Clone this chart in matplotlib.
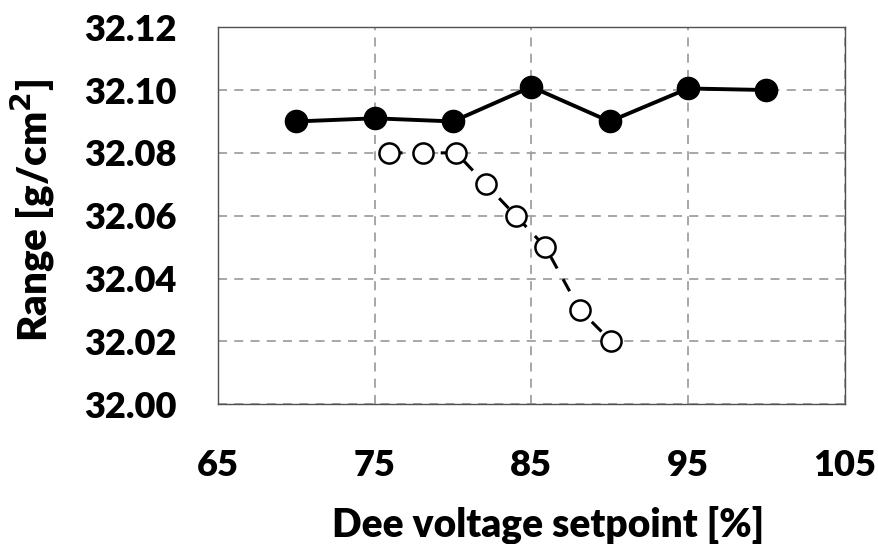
import matplotlib.pyplot as plt

# dados
x_cheio = [70, 75, 80, 85, 90, 95, 100]
y_cheio = [32.090, 32.091, 32.090, 32.101, 32.090, 32.1005, 32.100]

x_aberto = [75.9, 78.1, 80.2, 82.1, 84.0, 85.9, 88.1, 90.1]
y_aberto = [32.080, 32.080, 32.080, 32.070, 32.060, 32.050, 32.030, 32.020]

x_ticks = [65, 75, 85, 95, 105]
y_ticks = [32.00, 32.02, 32.04, 32.06, 32.08, 32.10, 32.12]

plt.rcParams['font.family'] = ['Lato', 'DejaVu Sans']
plt.rcParams['font.weight'] = 'heavy'

fig = plt.figure(figsize=(8.79, 5.44), dpi=100)
ax = fig.add_axes([0.248, 0.257, 0.713, 0.693])

ax.plot(x_cheio, y_cheio, color='black', lw=2.8, marker='o', ms=16,
        markerfacecolor='black', zorder=3)
ax.plot(x_aberto, y_aberto, color='black', lw=2.2, ls=(0, (4.5, 4)), marker='o',
        ms=14.5, markerfacecolor='white', markeredgecolor='black', mew=1.8, zorder=3)

ax.set_xlim(65, 105)
ax.set_ylim(32.00, 32.12)
ax.set_xticks(x_ticks)
ax.set_yticks(y_ticks)
ax.set_yticklabels(['%.2f' % v for v in y_ticks])
ax.grid(True, color='#a0a0a0', ls=(0, (5, 4)), lw=1.3)
ax.tick_params(length=0, labelsize=26)
ax.tick_params(axis='x', pad=32)
ax.tick_params(axis='y', pad=30)
for s in ax.spines.values():
    s.set_color('#505050')
    s.set_linewidth(1)

# rotulos dos eixos
fig.text(548 / 879, 1 - 525 / 544, 'Dee voltage setpoint [%]', fontsize=28,
         fontweight='heavy', ha='center', va='center')
fig.text(33 / 879, 1 - 210 / 544, 'Range [g/cm$^\\mathbf{2}$]', fontsize=29,
         fontweight='heavy', ha='center', va='center', rotation=90)

fig.savefig('out.png', dpi=100)
